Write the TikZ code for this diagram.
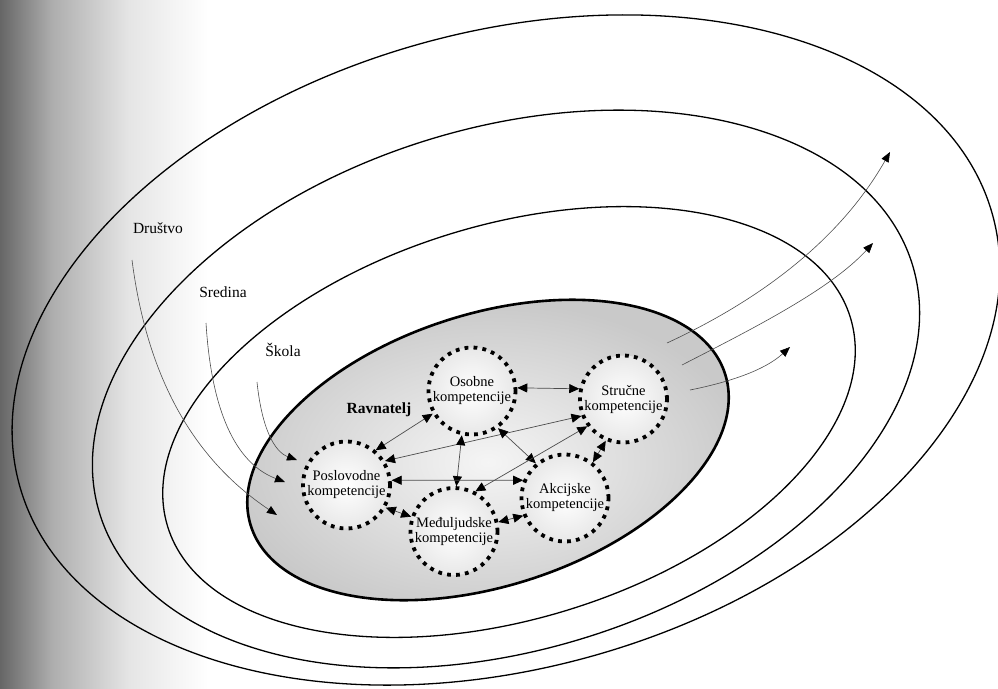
\documentclass[tikz,border=0pt]{standalone}
\usepackage{fontspec}
\setmainfont{Liberation Serif}
\usetikzlibrary{arrows.meta}

\pgfdeclarehorizontalshading{sjena}{100bp}{color(0bp)=(black!60); color(25bp)=(black!60);
  color(35bp)=(black!32); color(50bp)=(black!10); color(65bp)=(white); color(100bp)=(white)}

\begin{document}
\begin{tikzpicture}[x=1pt,y=-1pt,
  prsten/.style={draw=black, line width=1.3pt},
  komp/.style={circle, draw=black, line width=3.8pt, dash pattern=on 3.8pt off 5.2pt,
    minimum size=87pt, inner sep=0pt, align=center, inner color=white, outer color=gray!18,
    font=\fontsize{14.5}{15}\selectfont},
  veza/.style={draw=gray!60!black, line width=0.7pt,
    {Triangle[length=10pt,width=9pt,color=black]}-{Triangle[length=10pt,width=9pt,color=black]}},
  tok/.style={draw=gray!60!black, line width=0.6pt, -{Triangle[length=10pt,width=8pt,color=black]}},
  oznaka/.style={font=\fontsize{15.5}{16}\selectfont}]

\useasboundingbox (0,0) rectangle (998,688);

% Sjena lijevo
\shade[shading=sjena] (0,0) rectangle (260,688);

% Elipse okruzenja
\draw[prsten, rotate around={15.6:(506,350)}] (506,350) ellipse (505 and 318);
\draw[prsten, rotate around={17:(506,389)}] (506,389) ellipse (425 and 261);
\draw[prsten, rotate around={17:(509,422)}] (509,422) ellipse (357 and 197);
\path[draw=black, line width=2.6pt, inner color=gray!8, outer color=gray!42,
  rotate around={17.8:(488,450)}] (488,450) ellipse (249 and 136);

% Oznake
\node[oznaka] (drustvo) at (158,228) {Društvo};
\node[oznaka] (sredina) at (223,292) {Sredina};
\node[oznaka] (skola) at (283,350) {Škola};
\node[oznaka, font=\fontsize{15.5}{16}\selectfont\bfseries] (ravnatelj) at (379,410) {Ravnatelj};

% Utjecaji izvana
\coordinate (d1) at (132,260);
\coordinate (d2) at (277,515);
\coordinate (s1) at (206,323);
\coordinate (s2) at (285,482);
\coordinate (k1) at (257,382);
\coordinate (k2) at (297,460);
\draw[tok] (d1) .. controls (150,400) and (210,470) .. (d2);
\draw[tok] (s1) .. controls (212,420) and (240,465) .. (s2);
\draw[tok] (k1) .. controls (262,430) and (275,452) .. (k2);

% Utjecaji prema van
\coordinate (o1) at (667,343);
\coordinate (o2) at (890,152);
\coordinate (p1) at (682,365);
\coordinate (p2) at (873,243);
\coordinate (r1) at (690,390);
\coordinate (r2) at (790,347);
\draw[tok] (o1) .. controls (760,300) and (840,240) .. (o2);
\draw[tok] (p1) .. controls (750,330) and (830,290) .. (p2);
\draw[tok] (r1) .. controls (730,382) and (765,370) .. (r2);

% Kompetencije
\node[komp] (osobne) at (472,391) {Osobne\\kompetencije};
\node[komp] (strucne) at (623.5,399) {Stručne\\kompetencije};
\node[komp] (poslovodne) at (346.5,485) {Poslovodne\\kompetencije};
\node[komp] (akcijske) at (565,498) {Akcijske\\kompetencije};
\node[komp] (meduljudske) at (454,531.5) {Međuljudske\\kompetencije};

% Veze
\draw[veza] (osobne.4) -- (strucne.167);
\draw[veza] (osobne.210) -- (poslovodne.50);
\draw[veza] (poslovodne.32) -- (strucne.202);
\draw[veza] (osobne.257) -- (meduljudske.87);
\draw[veza] (poslovodne.6) -- (akcijske.157);
\draw[veza] (osobne.305) -- (akcijske.130);
\draw[veza] (strucne.217) -- (meduljudske.62);
\draw[veza] (strucne.247) -- (akcijske.52);
\draw[veza] (poslovodne.330) -- (meduljudske.161);
\draw[veza] (meduljudske.12) -- (akcijske.203);

\end{tikzpicture}
\end{document}
